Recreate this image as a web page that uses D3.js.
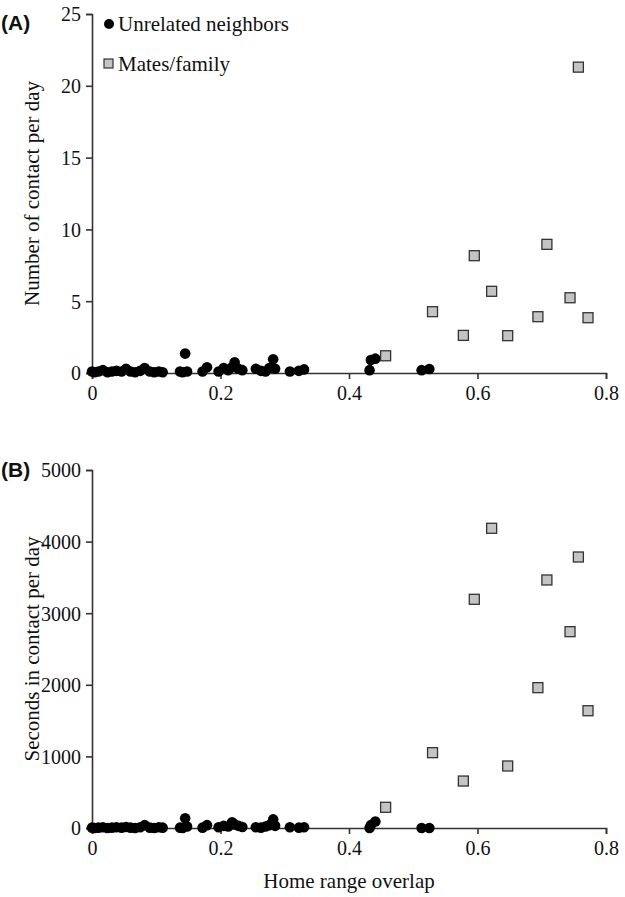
<!DOCTYPE html>
<html><head><meta charset="utf-8">
<script src="https://cdn.jsdelivr.net/npm/d3@7"></script>
<style>body{margin:0;background:#fff} text{font-family:"Liberation Serif","Times New Roman",serif}</style>
</head><body>
<svg id="c" width="625" height="897"></svg>
<script>
// Unrelated neighbors
const nbX  = [0.000,0.004,0.010,0.017,0.024,0.031,0.038,0.046,0.053,0.060,0.067,0.075,0.082,0.090,0.097,0.104,0.110,0.137,0.141,0.145,0.148,0.172,0.179,0.197,0.205,0.212,0.218,0.222,0.228,0.234,0.255,0.263,0.270,0.276,0.282,0.285,0.308,0.322,0.330,0.432,0.434,0.441,0.513,0.525];
const nbA  = [0.1,0.05,0.1,0.2,0.05,0.1,0.15,0.1,0.3,0.1,0.05,0.15,0.35,0.1,0.05,0.1,0.05,0.1,0.05,1.35,0.1,0.1,0.4,0.1,0.35,0.2,0.4,0.75,0.3,0.2,0.3,0.15,0.1,0.35,0.95,0.3,0.1,0.15,0.25,0.2,0.9,1.0,0.2,0.28];
const nbB  = [5,0,5,10,0,5,10,5,15,5,0,10,40,5,0,10,5,5,0,135,20,5,40,10,30,20,80,50,30,15,10,5,20,40,120,30,10,5,10,0,40,90,0,0];
// Mates/family
const mfX  = [0.457,0.530,0.595,0.622,0.578,0.647,0.708,0.694,0.744,0.772,0.757];
const mfA  = [1.2,4.27,8.17,5.69,2.62,2.6,8.96,3.92,5.24,3.85,21.3];
const mfB  = [289,1052,3194,4186,656,866,3464,1960,2742,1638,3785];
const xTicks = [0,0.2,0.4,0.6,0.8];
const yTicksA = [0,5,10,15,20,25];
const yTicksB = [0,1000,2000,3000,4000,5000];

const svg = d3.select("#c");
const serif = "Liberation Serif";
const x = d3.scaleLinear().domain([0,0.8]).range([92,606]);

function panel(top, bottom, yMax, ticks, nbY, mfY, title, label, labelY, legend){
  const y = d3.scaleLinear().domain([0,yMax]).range([bottom, top]);
  const g = svg.append("g");
  const xa = g.append("g").attr("transform",`translate(0,${bottom})`)
    .call(d3.axisBottom(x).tickValues(xTicks).tickFormat(d=>d===0?"0":d3.format(".1f")(d)).tickSizeOuter(0).tickSize(6));
  const ya = g.append("g").attr("transform",`translate(92,0)`)
    .call(d3.axisLeft(y).tickValues(ticks).tickFormat(d3.format("d")).tickSizeOuter(0).tickSize(6));
  [xa,ya].forEach(a=>{
    a.attr("font-family",serif).attr("font-size",20);
    a.selectAll("path,line").attr("stroke","#333").attr("stroke-width",1.6);
    a.selectAll("text").attr("font-family",serif).attr("fill","#111");
  });
  xa.selectAll("text").attr("dy","0.9em");
  ya.selectAll("text").attr("dx","-2").attr("dy","0.34em");
  g.append("text").attr("transform",`translate(39,${(top+bottom)/2}) rotate(-90)`)
    .attr("text-anchor","middle").attr("font-family",serif).attr("font-size",21).attr("fill","#111").text(title);
  g.append("text").attr("x",1).attr("y",labelY).style("font-family","'Liberation Sans',Arial,sans-serif")
    .attr("font-weight","bold").style("font-size","21px").attr("fill","#111").text(label);
  // neighbors
  g.append("g").selectAll("circle").data(nbX.map((d,i)=>[d,nbY[i]])).join("circle")
    .attr("cx",d=>x(d[0])).attr("cy",d=>y(d[1])).attr("r",5.3).attr("fill","#000");
  // mates
  g.append("g").selectAll("rect").data(mfX.map((d,i)=>[d,mfY[i]])).join("rect")
    .attr("x",d=>x(d[0])-5).attr("y",d=>y(d[1])-5).attr("width",10).attr("height",10)
    .attr("fill","#c4c4c4").attr("stroke","#333").attr("stroke-width",1.3);
  if(legend){
    g.append("circle").attr("cx",109).attr("cy",24).attr("r",5).attr("fill","#000");
    g.append("text").attr("x",118).attr("y",31).attr("font-family",serif).attr("font-size",21).attr("fill","#111").text("Unrelated neighbors");
    g.append("rect").attr("x",104).attr("y",59).attr("width",9).attr("height",9).attr("fill","#c4c4c4").attr("stroke","#333").attr("stroke-width",1.2);
    g.append("text").attr("x",118).attr("y",71).attr("font-family",serif).attr("font-size",21).attr("fill","#111").text("Mates/family");
  }
}
panel(14,373,25,yTicksA,nbA,mfA,"Number of contact per day","(A)",30,true);
panel(470,828,5000,yTicksB,nbB,mfB,"Seconds in contact per day","(B)",477,false);
svg.append("text").attr("x",349).attr("y",888).attr("text-anchor","middle").attr("font-family",serif)
  .attr("font-size",21).attr("fill","#111").text("Home range overlap");
</script>
</body></html>
